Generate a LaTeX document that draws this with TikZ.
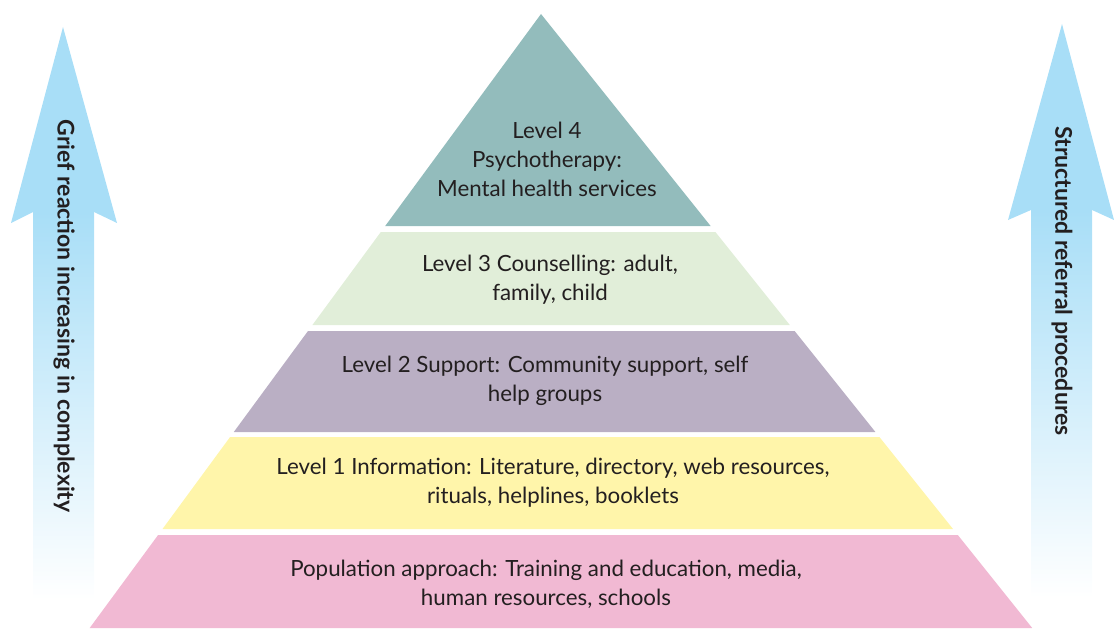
\documentclass[tikz,border=0pt]{standalone}
\usepackage{fontspec}
\setmainfont{Lato}
\usepackage{tikz}
\usetikzlibrary{positioning}
\definecolor{tealband}{HTML}{93BCBC}
\definecolor{greenband}{HTML}{E1EED9}
\definecolor{purpleband}{HTML}{BAAFC4}
\definecolor{yellowband}{HTML}{FFF5AA}
\definecolor{pinkband}{HTML}{F1B9D3}
\definecolor{arrowblue}{HTML}{A8DEF7}
\definecolor{textgray}{HTML}{231F20}
\tikzstyle{band} = [draw=none]
\tikzstyle{bandtext} = [align=center, text=textgray, inner sep=0pt,
  font=\fontsize{12.7}{16.5}\selectfont]
\tikzstyle{arrowtext} = [rotate=-90, text=textgray, inner sep=0pt,
  font=\fontsize{13.1}{16}\selectfont\bfseries]
\tikzstyle{arrowhead} = [draw=none, fill=arrowblue]
\tikzstyle{arrowshaft} = [draw=none, top color=arrowblue, bottom color=white]

\begin{document}
\begin{tikzpicture}[x=0.02cm, y=-0.02cm]

      \useasboundingbox (0,0) rectangle (1114,628);

      %
      % Pyramid
      %

      \path [band, fill=tealband] (541,14) -- (710.6,226) -- (385.2,226) -- cycle;
      \path [band, fill=greenband] (380.8,232) -- (715.4,232) -- (789.8,325) -- (312.4,325) -- cycle;
      \path [band, fill=purpleband] (308.0,331) -- (794.6,331) -- (875.4,432) -- (233.8,432) -- cycle;
      \path [band, fill=yellowband] (230.1,437) -- (879.4,437) -- (953.0,529) -- (162.5,529) -- cycle;
      \path [band, fill=pinkband] (158.1,535) -- (957.8,535) -- (1032.2,628) -- (89.7,628) -- cycle;

      \node [bandtext] (lvfour) at (547,159) {Level 4\\Psychotherapy:\\Mental health services};
      \node [bandtext] (lvthree) at (550,280) {Level 3 Counselling: adult,\\family, child};
      \node [bandtext] (lvtwo) at (545,381) {Level 2 Support: Community support, self\\help groups};
      \node [bandtext] (lvone) at (553,483) {Level 1 Information: Literature, directory, web resources,\\rituals, helplines, booklets};
      \node [bandtext] (popn) at (546,584) {Population approach: Training and education, media,\\human resources, schools};

      %
      % Side arrows
      %

      \path [arrowshaft] (33,212) rectangle (94,600);
      \path [arrowhead] (63,27) -- (117,223) -- (94,212) -- (33,212) -- (11,223) -- cycle;
      \node [arrowtext] (grief) at (64,316) {Grief reaction increasing in complexity};

      \path [arrowshaft] (1031,210) rectangle (1092,598);
      \path [arrowhead] (1062,24) -- (1114,220) -- (1092,210) -- (1031,210) -- (1008,220) -- cycle;
      \node [arrowtext] (referral) at (1062,281) {Structured referral procedures};

    \end{tikzpicture}
\end{document}
